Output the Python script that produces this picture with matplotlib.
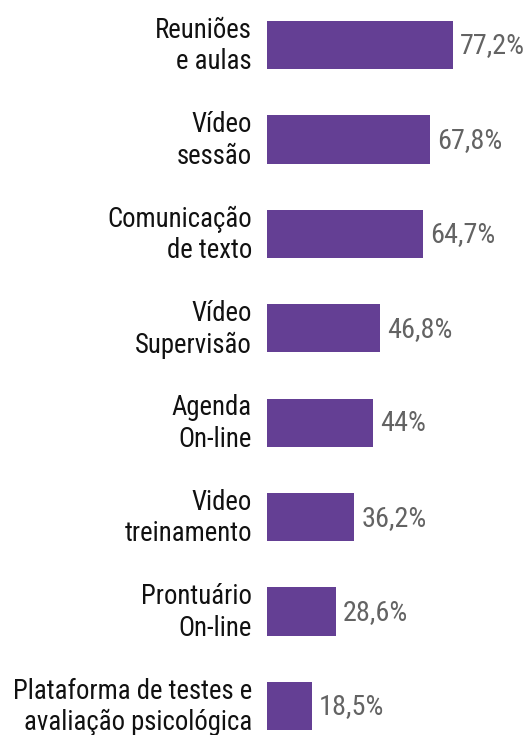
import matplotlib
matplotlib.use("Agg")
import matplotlib.pyplot as plt

categories = [
    "Reuniões\ne aulas",
    "Vídeo\nsessão",
    "Comunicação\nde texto",
    "Vídeo\nSupervisão",
    "Agenda\nOn-line",
    "Video\ntreinamento",
    "Prontuário\nOn-line",
    "Plataforma de testes e\navaliação psicológica",
]
values = [77.2, 67.8, 64.7, 46.8, 44, 36.2, 28.6, 18.5]
value_labels = ["77,2%", "67,8%", "64,7%", "46,8%", "44%", "36,2%", "28,6%", "18,5%"]

plt.rcParams["font.family"] = ["Roboto Condensed", "DejaVu Sans"]

W, H = 528, 735
fig = plt.figure(figsize=(W / 100, H / 100), dpi=100)
# axes from the bar base to the right edge, full height
x0 = 267
ax = fig.add_axes([x0 / W, 0, (W - x0) / W, 1])
px_per_unit = 2.41
step = 94.4
ax.set_xlim(0, (W - x0) / px_per_unit)
ax.set_ylim(7 + (H - 706) / step, -45 / step)

y = list(range(len(values)))
ax.barh(y, values, height=0.51, color="#643f94")

for i, (v, lab) in enumerate(zip(values, value_labels)):
    ax.annotate(lab, (v, i), xytext=(7, -1), textcoords="offset pixels",
                va="center", ha="left", fontsize=20.3, color="#636363")
    ax.annotate(categories[i], (0, i), xytext=(-15, -1), textcoords="offset pixels",
                va="center", ha="right", fontsize=19.3, color="#111111",
                linespacing=1.22, annotation_clip=False)

ax.axis("off")
fig.savefig("out.png", dpi=100)
